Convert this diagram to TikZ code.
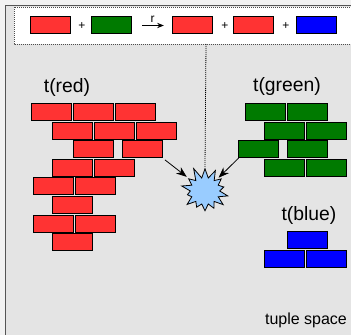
\documentclass[tikz,border=0pt]{standalone}
\usepackage{fontspec}
\setmainfont{Liberation Sans}
\usetikzlibrary{arrows.meta, shapes.symbols}

\definecolor{brickred}{HTML}{FF3333}
\definecolor{brickgreen}{HTML}{007A00}
\definecolor{brickblue}{HTML}{0000FF}
\definecolor{crashblue}{HTML}{99CCFF}
\definecolor{spacegray}{HTML}{E4E4E4}
\definecolor{pagegray}{HTML}{F2F2F2}
\definecolor{framegray}{HTML}{555555}

\begin{document}
\begin{tikzpicture}[
    x=0.75pt, y=-0.75pt,
    >=Stealth,
    brick/.style={draw=black, line width=0.75pt, inner sep=0pt,
                  minimum width=30pt, minimum height=12.75pt},
    redbrick/.style={brick, fill=brickred},
    greenbrick/.style={brick, fill=brickgreen},
    bluebrick/.style={brick, fill=brickblue},
    tuplelbl/.style={font=\fontsize{14.5}{16}\selectfont},
    oplbl/.style={font=\fontsize{9}{10}\selectfont, inner sep=1pt},
    hit/.style={->, line width=0.6pt, >={Stealth[length=8pt, width=6pt]}}
]
\useasboundingbox (0,0) rectangle (351,335);
% Tuple space area
\fill[pagegray] (0,0) rectangle (351,335);
\fill[spacegray] (5.5,5.5) rectangle (351,335);
\draw[framegray, line width=1.4pt] (5.5,335) -- (5.5,5.5) -- (351,5.5);
% Reaction rule in the top box
\draw[gray!60!black, line width=0.6pt, dash pattern=on 0.75pt off 0.75pt, fill=white]
    (14,7) rectangle (360,44);
\def\yrule{25.5}
\node[redbrick]   (ruleA) at (51,\yrule)  {};
\node[greenbrick] (ruleB) at (112,\yrule) {};
\node[redbrick]   (ruleC) at (193,\yrule) {};
\node[redbrick]   (ruleD) at (254,\yrule) {};
\node[bluebrick]  (ruleE) at (317,\yrule) {};
\node[oplbl] (plusA) at (82,26)  {+};
\node[oplbl] (plusB) at (225,26) {+};
\node[oplbl] (plusC) at (286,26) {+};
\draw[->, line width=0.6pt, >={Stealth[length=5pt, width=4pt]},
      shorten <=7.5pt, shorten >=6.5pt] (ruleB.east) -- (ruleC.west)
    node[midway, above=1pt, oplbl] (rate) {r};
% Red tuples
\node[tuplelbl] (tred) at (67,87) {t(red)};
\foreach \x/\y [count=\i] in {51.3/112, 93.3/112, 135.3/112,
                              72.3/130.6, 114.3/130.6, 156.3/130.6,
                              93.3/149.2, 142.3/149.2,
                              72.3/167.8, 114.3/167.8,
                              53.7/186.4, 95.7/186.4,
                              72.3/205,
                              53.7/223.6, 95.7/223.6,
                              72.3/242.2}
  \node[redbrick] (red\i) at (\x,\y) {};
% Green tuples
\node[tuplelbl] (tgreen) at (287,87) {t(green)};
\foreach \x/\y [count=\i] in {266/112, 308/112,
                              284.7/130.6, 326.7/130.6,
                              259/149.2, 308/149.2,
                              284.7/167.8, 326.7/167.8}
  \node[greenbrick] (green\i) at (\x,\y) {};
% Blue tuples
\node[tuplelbl] (tblue) at (309,215) {t(blue)};
\node[bluebrick] (blue1) at (307.7,240.3) {};
\node[bluebrick] (blue2) at (284.7,259) {};
\node[bluebrick] (blue3) at (326.7,259) {};
% Reaction: one red and one green tuple collide
\node[starburst, draw=black, fill=crashblue, line width=0.6pt, inner sep=0pt,
      minimum width=40pt, minimum height=38pt, starburst points=14,
      starburst point height=9pt, random starburst=11] (crash) at (205,191) {};
\coordinate (rulefoot) at (206,44);
\draw[line width=0.6pt, dash pattern=on 0.75pt off 0.75pt] (rulefoot) -- (crash.north);
\draw[hit, shorten <=2pt, shorten >=2pt] (red8.south east) -- (crash);
\draw[hit, shorten >=2pt] (green5.south west) -- (crash);
\node[font=\fontsize{12}{14}\selectfont] (spacelbl) at (306,320) {tuple space};
\end{tikzpicture}
\end{document}
